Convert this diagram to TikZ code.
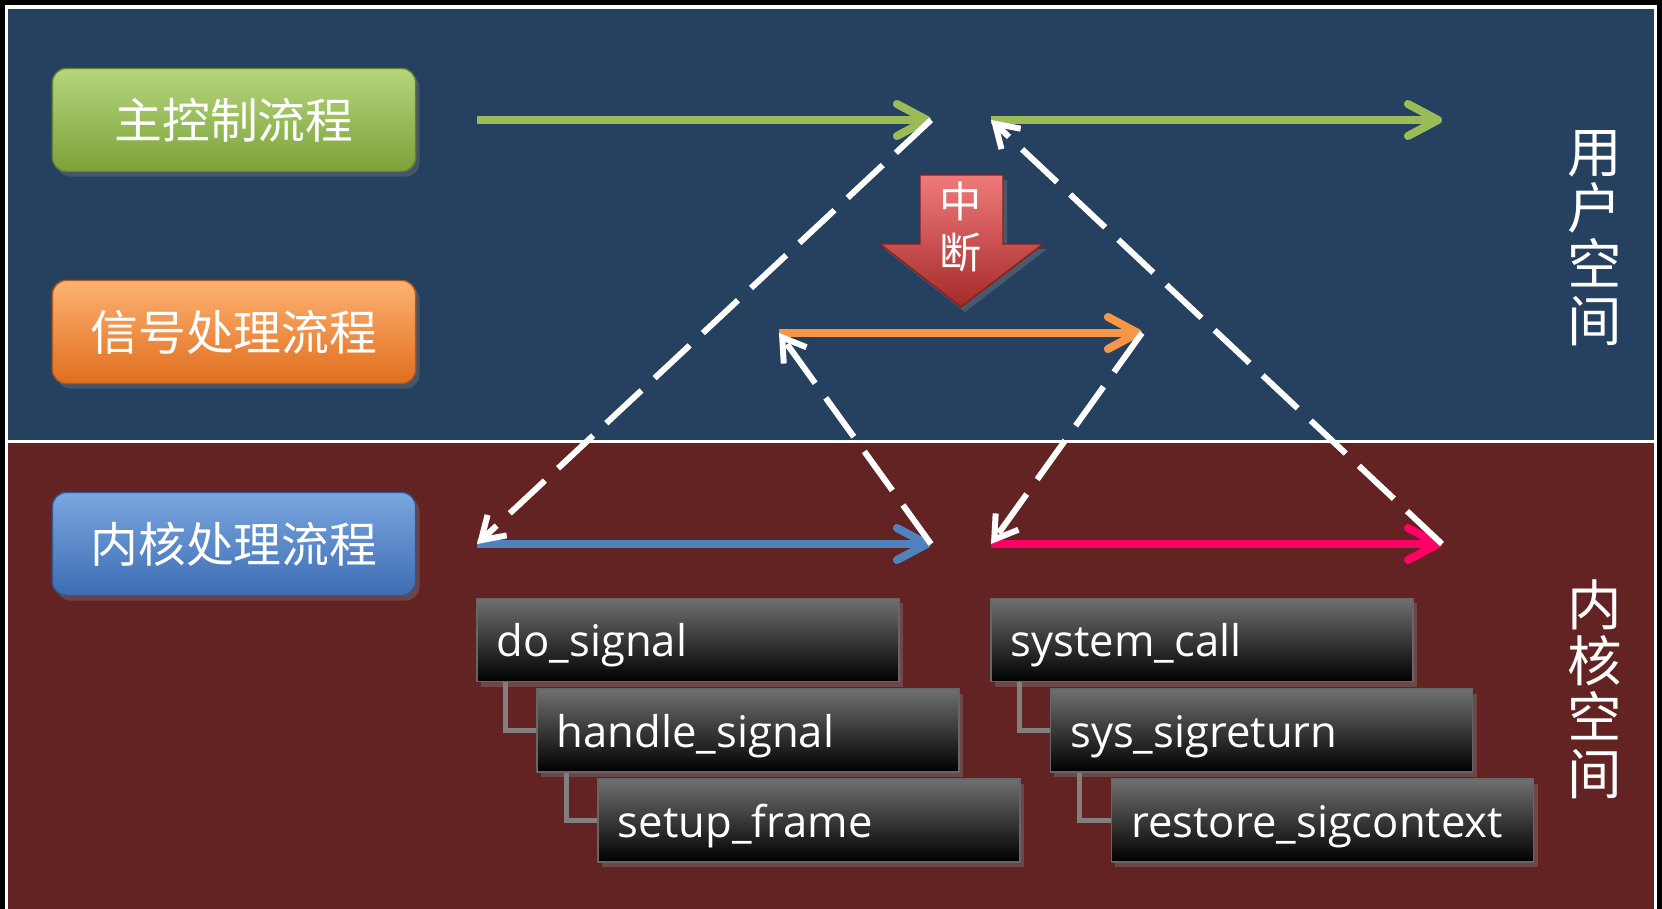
\documentclass[tikz,border=0pt]{standalone}
\usepackage{fontspec}
\setmainfont{Open Sans}
\newfontfamily\cjk{Noto Sans CJK SC}
\usetikzlibrary{arrows.meta,shadows}

\definecolor{userbg}{RGB}{38,64,96}
\definecolor{kernbg}{RGB}{99,35,35}
\definecolor{mainc}{RGB}{155,187,89}
\definecolor{sigc}{RGB}{247,150,70}
\definecolor{kernc}{RGB}{79,129,189}
\definecolor{retc}{RGB}{255,0,102}
\definecolor{gtop}{RGB}{181,214,124}
\definecolor{gbot}{RGB}{125,162,58}
\definecolor{otop}{RGB}{253,178,114}
\definecolor{obot}{RGB}{224,110,30}
\definecolor{btop}{RGB}{122,167,223}
\definecolor{bbot}{RGB}{61,108,180}
\definecolor{rtop}{RGB}{240,122,122}
\definecolor{rbot}{RGB}{165,42,42}
\definecolor{ftop}{RGB}{112,112,112}

\begin{document}
\begin{tikzpicture}[x=0.01cm, y=-0.01cm,
    flowbox/.style={rounded corners=0.14cm, minimum width=3.63cm, minimum height=1.03cm,
      text=white, font=\cjk\fontsize{13.6pt}{16pt}\selectfont,
      drop shadow={shadow xshift=0.04cm, shadow yshift=-0.05cm, opacity=0.35}},
    funcbox/.style={top color=ftop, bottom color=black, draw=black!60, line width=0.4pt,
      text width=3.82cm, inner xsep=0.2cm, inner ysep=0.08cm,
      text height=0.5cm, text depth=0.17cm, align=left,
      text=white, font=\fontsize{12.4pt}{14pt}\selectfont,
      drop shadow={shadow xshift=0.04cm, shadow yshift=-0.05cm, opacity=0.4}},
    spacelabel/.style={text=white, align=center, font=\cjk\fontsize{15.5pt}{16pt}\selectfont},
    flow/.style={line width=2.3pt, -{Straight Barb[round,length=0.3cm,width=0.32cm]}},
    jump/.style={white, line width=1.7pt, dash pattern=on 0.48cm off 0.18cm,
      -{Straight Barb[length=0.22cm,width=0.28cm]}},
    tree/.style={gray, line width=1.4pt}]
    \useasboundingbox (0,0) rectangle (1662,909);
    % background: user space above, kernel space below
    \fill[black] (0,0) rectangle (1662,909);
    \fill[white] (5,5) rectangle (1657,909);
    \fill[userbg] (8,9) rectangle (1654,440);
    \fill[kernbg] (8,443) rectangle (1654,909);

    \node[flowbox, top color=gtop, bottom color=gbot, draw=gbot!80!black] (mainbox) at (234,120) {主控制流程};
    \node[flowbox, top color=otop, bottom color=obot, draw=obot!80!black] (sigbox) at (234,332) {信号处理流程};
    \node[flowbox, top color=btop, bottom color=bbot, draw=bbot!80!black] (kernbox) at (234,544) {内核处理流程};

    \node[spacelabel] (userspace) at (1595,238) {用\\户\\空\\间};
    \node[spacelabel] (kernspace) at (1595,689) {内\\核\\空\\间};

    % end points of the flows
    \coordinate (m1) at (477,120);
    \coordinate (m2) at (931,120);
    \coordinate (m3) at (991,120);
    \coordinate (m4) at (1442,120);
    \coordinate (s1) at (779,333);
    \coordinate (s2) at (1142,333);
    \coordinate (k1) at (477,544);
    \coordinate (k2) at (931,544);
    \coordinate (k3) at (991,544);
    \coordinate (k4) at (1442,544);

    \draw[flow, mainc] (m1) -- (m2);
    \draw[flow, mainc] (m3) -- (m4);
    \draw[flow, sigc] (s1) -- (s2);
    \draw[flow, kernc] (k1) -- (k2);
    \draw[flow, retc] (k3) -- (k4);

    \draw[jump] (m2) -- (k1);
    \draw[jump] (k2) -- (s1);
    \draw[jump] (s2) -- (k3);
    \draw[jump] (k4) -- (m3);

    % interrupt arrow
    \path[top color=rtop, bottom color=rbot, draw=rbot!80!black, line width=0.4pt,
      drop shadow={shadow xshift=0.04cm, shadow yshift=-0.05cm, opacity=0.4}]
      (920,175) -- (1003,175) -- (1003,244) -- (1043,244) -- (961,307)
      -- (880,244) -- (920,244) -- cycle;
    \node[text=white, align=center, font=\cjk\fontsize{12pt}{14.5pt}\selectfont] (irq) at (961,227) {中\\断};

    % kernel functions
    \node[funcbox] (dosig) at (688,640) {do\_signal};
    \node[funcbox] (hsig) at (748,730.5) {handle\_signal};
    \node[funcbox] (setup) at (809,820.5) {setup\_frame};
    \node[funcbox] (syscall) at (1202,640) {system\_call};
    \node[funcbox] (sigret) at (1261.5,730.5) {sys\_sigreturn};
    \node[funcbox] (restore) at (1322.5,820.5) {restore\_sigcontext};

    \draw[tree] ([xshift=0.29cm]dosig.south west) |- (hsig.west);
    \draw[tree] ([xshift=0.3cm]hsig.south west) |- (setup.west);
    \draw[tree] ([xshift=0.29cm]syscall.south west) |- (sigret.west);
    \draw[tree] ([xshift=0.3cm]sigret.south west) |- (restore.west);
  \end{tikzpicture}
\end{document}
